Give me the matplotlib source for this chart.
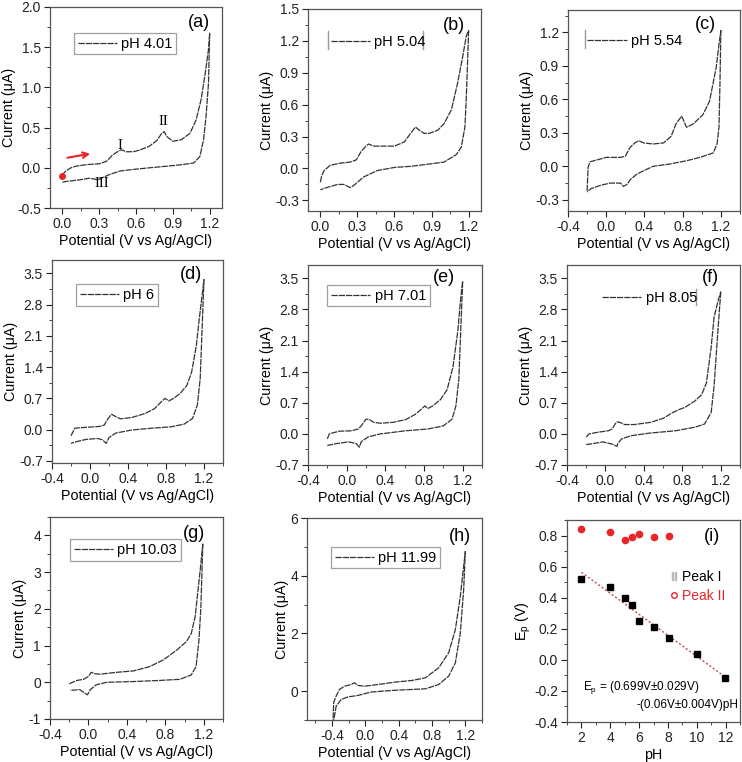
import matplotlib
matplotlib.use("Agg")
import numpy as np
import matplotlib.pyplot as plt
from matplotlib.ticker import MultipleLocator, AutoMinorLocator, FormatStrFormatter
from matplotlib.lines import Line2D

plt.rcParams['font.family'] = ['Liberation Sans', 'DejaVu Sans']
plt.rcParams['axes.unicode_minus'] = False
plt.rcParams['mathtext.default'] = 'regular'

# ---- cyclic voltammograms (potential V, current uA) ----
a_fwd_E = [0.0, 0.01, 0.03, 0.07, 0.11, 0.2, 0.3, 0.36, 0.41, 0.45, 0.48, 0.52, 0.58, 0.63, 0.71, 0.77, 0.81, 0.83, 0.85, 0.9, 0.97, 1.04, 1.09, 1.13, 1.16, 1.19, 1.2]
a_fwd_I = [-0.1, -0.07, -0.04, 0.0, 0.02, 0.04, 0.05, 0.08, 0.16, 0.2, 0.225, 0.2, 0.2, 0.22, 0.27, 0.34, 0.43, 0.45, 0.39, 0.33, 0.35, 0.43, 0.6, 0.85, 1.14, 1.47, 1.68]
a_rev_E = [1.2, 1.19, 1.17, 1.15, 1.12, 1.07, 0.98, 0.85, 0.71, 0.58, 0.47, 0.39, 0.33, 0.29, 0.26, 0.22, 0.14, 0.03, 0.0]
a_rev_I = [1.68, 1.05, 0.64, 0.35, 0.14, 0.06, 0.04, 0.02, 0.0, -0.02, -0.04, -0.08, -0.12, -0.15, -0.14, -0.13, -0.15, -0.17, -0.18]

b_fwd_E = [0.0, 0.01, 0.03, 0.08, 0.16, 0.24, 0.29, 0.33, 0.37, 0.39, 0.43, 0.52, 0.6, 0.68, 0.73, 0.77, 0.8, 0.84, 0.88, 0.95, 1.0, 1.06, 1.11, 1.15, 1.18, 1.2]
b_fwd_I = [-0.13, -0.07, -0.02, 0.03, 0.05, 0.06, 0.08, 0.16, 0.21, 0.23, 0.21, 0.21, 0.21, 0.25, 0.33, 0.39, 0.36, 0.33, 0.33, 0.36, 0.42, 0.55, 0.8, 1.04, 1.24, 1.3]
b_rev_E = [1.2, 1.19, 1.18, 1.17, 1.14, 1.1, 1.0, 0.87, 0.73, 0.6, 0.46, 0.35, 0.27, 0.24, 0.19, 0.14, 0.05, 0.0]
b_rev_I = [1.3, 0.96, 0.64, 0.39, 0.2, 0.13, 0.06, 0.04, 0.02, 0.01, -0.02, -0.08, -0.16, -0.18, -0.15, -0.15, -0.18, -0.2]

c_fwd_E = [-0.2, -0.19, -0.17, -0.13, 0.0, 0.15, 0.2, 0.25, 0.3, 0.34, 0.39, 0.49, 0.6, 0.68, 0.73, 0.79, 0.84, 0.91, 1.01, 1.08, 1.15, 1.18, 1.2]
c_fwd_I = [-0.22, -0.01, 0.04, 0.05, 0.08, 0.08, 0.09, 0.17, 0.21, 0.23, 0.21, 0.2, 0.21, 0.27, 0.38, 0.45, 0.35, 0.38, 0.46, 0.58, 0.88, 1.09, 1.22]
c_rev_E = [1.2, 1.19, 1.18, 1.16, 1.12, 0.98, 0.84, 0.66, 0.49, 0.39, 0.32, 0.25, 0.22, 0.18, 0.15, 0.04, -0.06, -0.16, -0.2]
c_rev_I = [1.22, 0.73, 0.35, 0.2, 0.12, 0.08, 0.05, 0.02, 0.0, -0.04, -0.07, -0.12, -0.16, -0.18, -0.15, -0.15, -0.17, -0.2, -0.23]

d_fwd_E = [-0.2, -0.16, -0.04, 0.1, 0.15, 0.18, 0.22, 0.23, 0.27, 0.32, 0.44, 0.58, 0.68, 0.75, 0.79, 0.83, 0.88, 0.95, 1.02, 1.07, 1.12, 1.15, 1.18, 1.2]
d_fwd_I = [-0.14, 0.03, 0.05, 0.07, 0.1, 0.21, 0.33, 0.34, 0.29, 0.24, 0.27, 0.36, 0.47, 0.62, 0.7, 0.64, 0.7, 0.81, 0.99, 1.29, 1.89, 2.48, 3.0, 3.37]
d_rev_E = [1.2, 1.18, 1.16, 1.13, 1.08, 0.99, 0.85, 0.65, 0.44, 0.27, 0.2, 0.17, 0.13, 0.08, -0.04, -0.14, -0.2]
d_rev_I = [3.37, 2.26, 1.14, 0.55, 0.25, 0.12, 0.06, 0.03, -0.01, -0.08, -0.18, -0.31, -0.23, -0.2, -0.22, -0.27, -0.31]

e_fwd_E = [-0.2, -0.18, -0.08, 0.05, 0.12, 0.15, 0.2, 0.23, 0.28, 0.35, 0.48, 0.61, 0.71, 0.77, 0.81, 0.84, 0.89, 0.97, 1.04, 1.1, 1.15, 1.18, 1.2]
e_fwd_I = [-0.11, 0.0, 0.06, 0.07, 0.11, 0.18, 0.33, 0.33, 0.26, 0.24, 0.26, 0.32, 0.44, 0.55, 0.63, 0.57, 0.63, 0.77, 1.0, 1.51, 2.32, 3.06, 3.43]
e_rev_E = [1.2, 1.18, 1.16, 1.13, 1.09, 1.0, 0.84, 0.61, 0.35, 0.22, 0.15, 0.13, 0.1, 0.02, -0.11, -0.2]
e_rev_I = [3.43, 2.32, 1.22, 0.63, 0.33, 0.18, 0.11, 0.07, 0.0, -0.07, -0.18, -0.3, -0.22, -0.18, -0.22, -0.26]

f_fwd_E = [-0.2, -0.17, -0.07, 0.03, 0.07, 0.1, 0.12, 0.15, 0.2, 0.3, 0.47, 0.6, 0.7, 0.77, 0.83, 0.93, 1.0, 1.05, 1.1, 1.13, 1.17, 1.2]
f_fwd_I = [-0.07, 0.0, 0.04, 0.07, 0.11, 0.22, 0.27, 0.26, 0.21, 0.21, 0.26, 0.35, 0.48, 0.55, 0.6, 0.74, 0.88, 1.14, 1.95, 2.62, 2.98, 3.2]
f_rev_E = [1.2, 1.17, 1.13, 1.1, 1.03, 0.93, 0.73, 0.47, 0.27, 0.17, 0.13, 0.12, 0.07, -0.03, -0.13, -0.2]
f_rev_I = [3.2, 2.32, 1.07, 0.48, 0.22, 0.15, 0.07, 0.02, -0.04, -0.11, -0.21, -0.28, -0.23, -0.18, -0.22, -0.24]

g_fwd_E = [-0.2, -0.12, -0.05, 0.0, 0.03, 0.07, 0.12, 0.29, 0.47, 0.64, 0.78, 0.92, 1.02, 1.07, 1.11, 1.14, 1.17, 1.19]
g_fwd_I = [-0.04, 0.05, 0.08, 0.16, 0.27, 0.23, 0.22, 0.27, 0.31, 0.43, 0.61, 0.88, 1.11, 1.33, 1.78, 2.51, 3.23, 3.77]
g_rev_E = [1.19, 1.17, 1.15, 1.12, 1.07, 0.95, 0.74, 0.47, 0.19, 0.08, 0.02, -0.01, -0.04, -0.09, -0.19]
g_rev_I = [3.77, 2.06, 1.15, 0.43, 0.2, 0.08, 0.05, 0.02, 0.0, -0.07, -0.2, -0.34, -0.29, -0.2, -0.22]

h_fwd_E = [-0.39, -0.38, -0.35, -0.31, -0.25, -0.17, -0.13, -0.09, -0.01, 0.15, 0.35, 0.56, 0.72, 0.88, 1.0, 1.08, 1.14, 1.18, 1.2]
h_fwd_I = [-1.2, -0.4, -0.17, 0.06, 0.17, 0.23, 0.29, 0.2, 0.17, 0.23, 0.31, 0.37, 0.46, 0.81, 1.33, 2.13, 3.29, 4.33, 4.85]
h_rev_E = [1.2, 1.18, 1.14, 1.08, 1.0, 0.88, 0.72, 0.35, 0.07, -0.09, -0.21, -0.29, -0.35, -0.39]
h_rev_I = [4.85, 3.52, 2.02, 0.98, 0.52, 0.23, 0.08, 0.03, -0.03, -0.15, -0.2, -0.29, -0.52, -1.2]

ph_labels = ['pH 4.01', 'pH 5.04', 'pH 5.54', 'pH 6', 'pH 7.01', 'pH 8.05', 'pH 10.03', 'pH 11.99']

# ---- peak potentials vs pH ----
pH_peak1 = [2, 4, 5.04, 5.54, 6, 7.01, 8.05, 10.03, 11.99]
Ep_peak1 = [0.52, 0.47, 0.40, 0.35, 0.25, 0.21, 0.14, 0.035, -0.12]
pH_peak2 = [2, 4, 5.04, 5.54, 6, 7.01, 8.05]
Ep_peak2 = [0.84, 0.82, 0.77, 0.79, 0.81, 0.79, 0.80]

W, H = 742, 762
fig = plt.figure(figsize=(W / 100, H / 100), dpi=100)


def px_axes(l, t, r, b):
    return fig.add_axes([l / W, 1 - b / H, (r - l) / W, (b - t) / H])


def style(ax, xlim, xstep, ylim, ystep, yfmt='%.1f', ylab='Current (\u03bcA)', xlab='Potential (V vs Ag/AgCl)'):
    ax.set_xlim(*xlim)
    ax.set_ylim(*ylim)
    ax.xaxis.set_major_locator(MultipleLocator(xstep))
    ax.yaxis.set_major_locator(MultipleLocator(ystep))
    ax.xaxis.set_minor_locator(AutoMinorLocator(2))
    ax.yaxis.set_minor_locator(AutoMinorLocator(2))
    ax.xaxis.set_major_formatter(FormatStrFormatter('%.1f'))
    ax.yaxis.set_major_formatter(FormatStrFormatter(yfmt))
    ax.tick_params(which='both', direction='out', labelsize=10, colors='#222', top=False, right=False, pad=2.5)
    ax.tick_params(which='major', length=4)
    ax.tick_params(which='minor', length=2)
    for s in ax.spines.values():
        s.set_color('#555')
        s.set_linewidth(0.9)
    ax.set_xlabel(xlab, fontsize=10.3, labelpad=2)
    ax.set_ylabel(ylab, fontsize=10.3, labelpad=1)


def cv(ax, fE, fI, rE, rI, label, lx, ly, frame=True):
    ax.plot(fE, fI, color='#333333', lw=0.9, ls=(0, (5, 0.8)), label=label)
    ax.plot(rE, rI, color='#333333', lw=0.9, ls=(0, (5, 0.8)))
    leg = ax.legend(loc='upper left', bbox_to_anchor=(lx, ly), fontsize=10.5, handlelength=2.7,
                    frameon=frame, fancybox=False, edgecolor='#888', borderpad=0.25,
                    handletextpad=0.3, borderaxespad=0)
    leg.get_frame().set_linewidth(0.9)
    return leg


def tag(ax, s, x, y):
    ax.text(x, y, s, transform=ax.transAxes, fontsize=13, ha='center', va='center')


# (a)
ax = px_axes(50, 7, 222, 208)
style(ax, (-0.1, 1.3), 0.3, (-0.5, 2.0), 0.5)
cv(ax, a_fwd_E, a_fwd_I, a_rev_E, a_rev_I, ph_labels[0], 0.14, 0.87)
tag(ax, '(a)', 0.866, 0.925)
ax.plot([0.0], [-0.1], 'o', color='#e8262a', ms=4)
ax.annotate('', xy=(0.25, 0.18), xytext=(0.02, 0.12),
            arrowprops=dict(arrowstyle='->', color='#e8262a', lw=1.5))
ax.text(0.47, 0.28, 'I', fontsize=10.5, family='Liberation Serif', ha='center', va='center')
ax.text(0.82, 0.57, 'II', fontsize=10.5, family='Liberation Serif', ha='center', va='center')
ax.text(0.32, -0.19, 'III', fontsize=10.5, family='Liberation Serif', ha='center', va='center')

# (b)
ax = px_axes(308, 9, 481, 211)
style(ax, (-0.1, 1.3), 0.3, (-0.4, 1.5), 0.3)
cv(ax, b_fwd_E, b_fwd_I, b_rev_E, b_rev_I, ph_labels[1], 0.11, 0.89, frame=False)
for xb in (0.116, 0.665):
    ax.plot([xb, xb], [0.80, 0.89], transform=ax.transAxes, color='#999', lw=1)
tag(ax, '(b)', 0.845, 0.92)

# (c)
ax = px_axes(568, 10, 740, 211)
style(ax, (-0.4, 1.4), 0.4, (-0.4, 1.4), 0.3)
cv(ax, c_fwd_E, c_fwd_I, c_rev_E, c_rev_I, ph_labels[2], 0.09, 0.90, frame=False)
ax.plot([0.10, 0.10], [0.81, 0.90], transform=ax.transAxes, color='#999', lw=1)
tag(ax, '(c)', 0.80, 0.93)

# (d)
ax = px_axes(52, 260, 223, 463)
style(ax, (-0.4, 1.4), 0.4, (-0.75, 3.8), 0.7)
cv(ax, d_fwd_E, d_fwd_I, d_rev_E, d_rev_I, ph_labels[3], 0.14, 0.88)
tag(ax, '(d)', 0.81, 0.93)

# (e)
ax = px_axes(308, 265, 482, 465)
style(ax, (-0.4, 1.4), 0.4, (-0.7, 3.8), 0.7)
cv(ax, e_fwd_E, e_fwd_I, e_rev_E, e_rev_I, ph_labels[4], 0.11, 0.90)
tag(ax, '(e)', 0.78, 0.935)

# (f)
ax = px_axes(567, 265, 740, 465)
style(ax, (-0.4, 1.4), 0.4, (-0.7, 3.8), 0.7)
cv(ax, f_fwd_E, f_fwd_I, f_rev_E, f_rev_I, ph_labels[5], 0.18, 0.89, frame=False)
ax.plot([0.745, 0.745], [0.80, 0.88], transform=ax.transAxes, color='#999', lw=1)
tag(ax, '(f)', 0.83, 0.935)

# (g)
ax = px_axes(50, 517, 223, 719)
style(ax, (-0.4, 1.4), 0.4, (-1, 4.5), 1, yfmt='%d')
cv(ax, g_fwd_E, g_fwd_I, g_rev_E, g_rev_I, ph_labels[6], 0.115, 0.89)
tag(ax, '(g)', 0.83, 0.92)

# (h)
ax = px_axes(307, 518, 482, 720)
style(ax, (-0.7, 1.4), 0.4, (-1, 6), 2, yfmt='%d')
cv(ax, h_fwd_E, h_fwd_I, h_rev_E, h_rev_I, ph_labels[7], 0.137, 0.856)
tag(ax, '(h)', 0.875, 0.906)

# (i)
ax = px_axes(567, 520, 740, 722)
style(ax, (1, 13), 2, (-0.4, 0.9), 0.2, ylab='E$_p$ (V)', xlab='pH')
ax.xaxis.set_major_formatter(FormatStrFormatter('%d'))
slope, icpt = np.polyfit(pH_peak1, Ep_peak1, 1)
xf = np.array([min(pH_peak1), max(pH_peak1)])
ax.plot(xf, slope * xf + icpt, color='#c0504d', lw=1, ls=(0, (1.5, 1.5)))
ax.plot(pH_peak1, Ep_peak1, 's', color='black', ms=4.5)
ax.plot(pH_peak2, Ep_peak2, 'o', color='#e8262a', ms=4.5)
h1 = Line2D([], [], ls='none', marker='$||$', color='#bbbbbb', ms=6)
h2 = Line2D([], [], ls='none', marker='o', mfc='none', mec='#e8262a', ms=4)
leg = ax.legend([h1, h2], ['Peak I', 'Peak II'], loc='upper left', bbox_to_anchor=(0.56, 0.78),
                frameon=False, fontsize=10, handlelength=0.6, handletextpad=0.3,
                borderaxespad=0, labelspacing=0.35)
leg.get_texts()[1].set_color('#e8262a')
ax.text(2.1, -0.18, 'E$_p$ = (0.699V\u00b10.029V)', fontsize=8.5, ha='left', va='center')
ax.text(12.9, -0.29, '-(0.06V\u00b10.004V)pH', fontsize=8.5, ha='right', va='center')
tag(ax, '(i)', 0.84, 0.916)

fig.savefig('out.png', dpi=100)
